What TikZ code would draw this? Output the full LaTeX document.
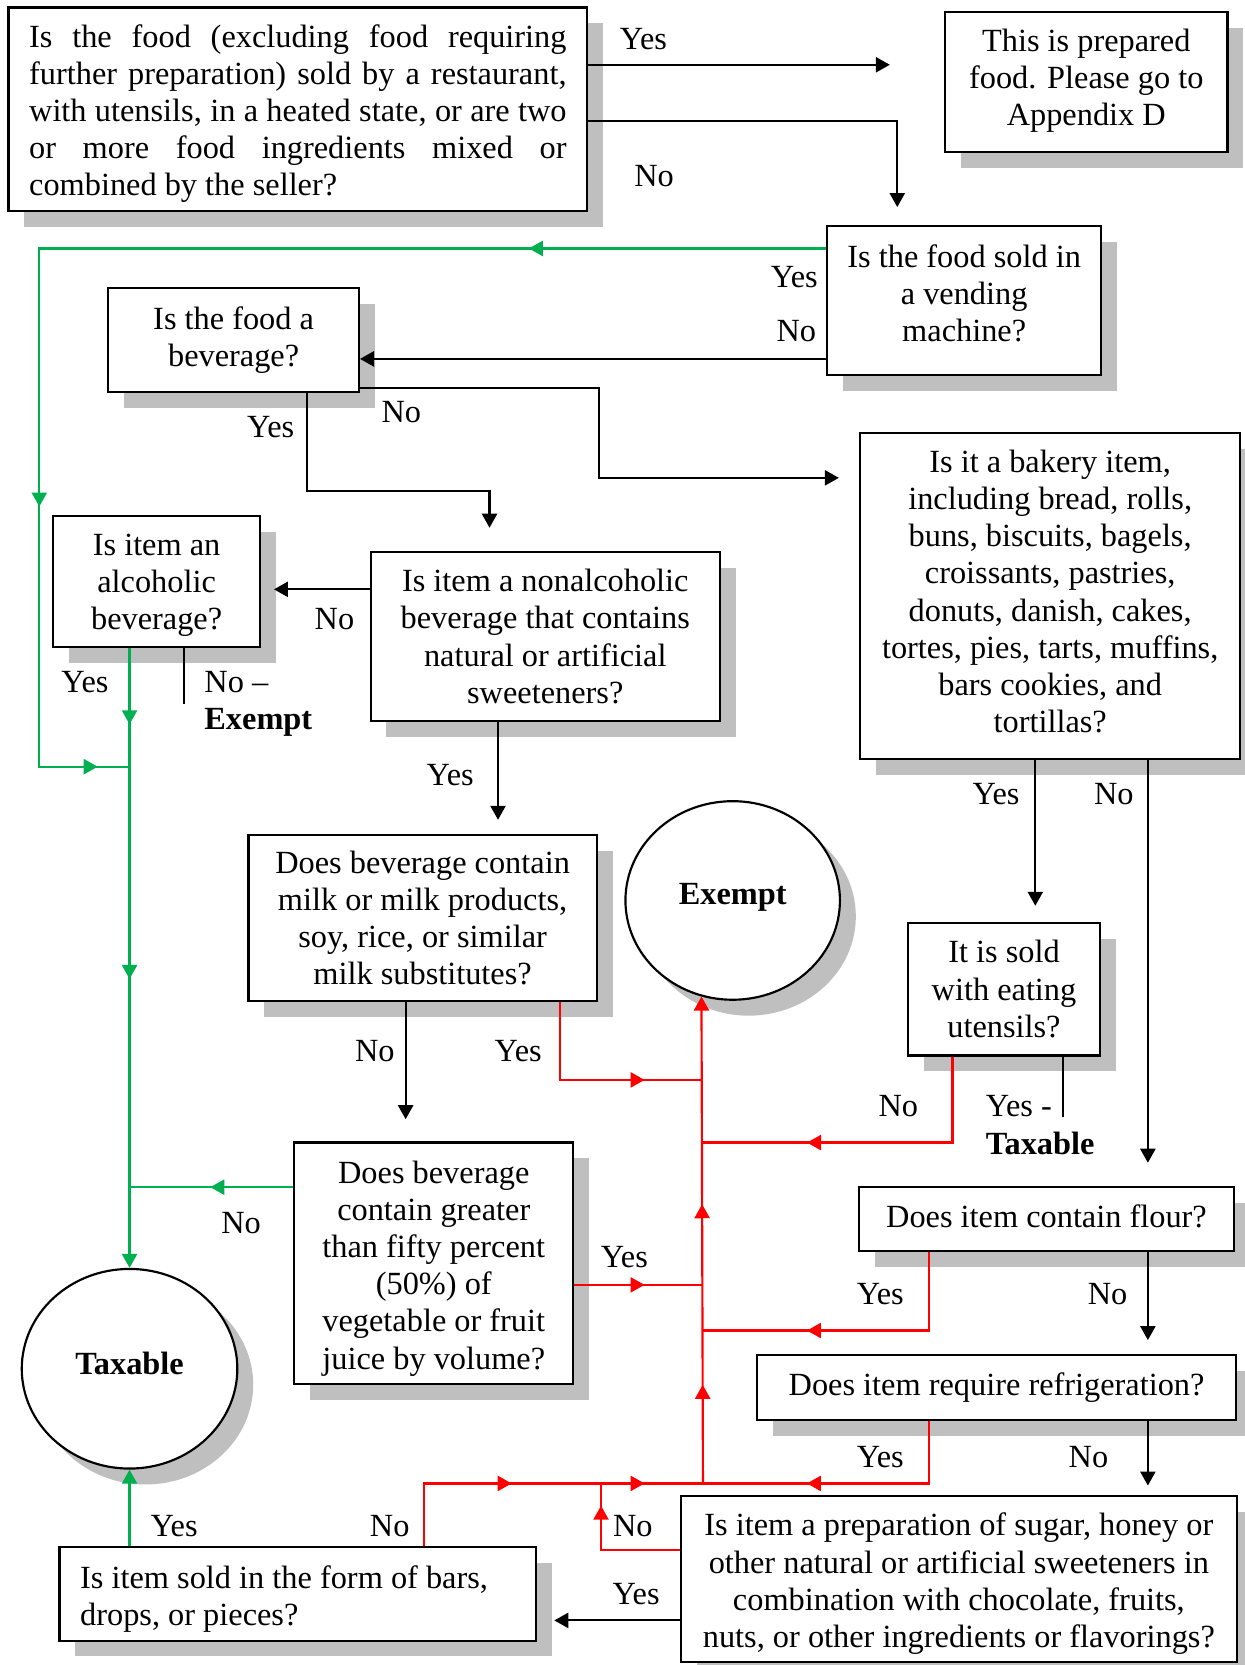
\documentclass[tikz,border=0pt]{standalone}
\usepackage{fontspec}
\setmainfont{Liberation Serif}
\usetikzlibrary{arrows.meta,shapes.geometric,shadows,decorations.markings}
\definecolor{shgray}{RGB}{191,191,191}
\definecolor{lgreen}{RGB}{0,176,80}
\definecolor{lred}{RGB}{255,0,0}
\newcommand\fs{\fontsize{12}{13.8}\selectfont}
\begin{document}
\begin{tikzpicture}[x=0.394pt,y=-0.394pt,
  font=\fs,
  shad/.style={drop shadow={shadow xshift=5.9pt,shadow yshift=-5.9pt,fill=shgray,opacity=1}},
  qbox/.style={draw,line width=0.8pt,fill=white,rectangle,align=center,inner sep=0pt,shad},
  wh/.style 2 args={minimum width=#1*0.394pt,minimum height=#2*0.394pt},
  endnode/.style={draw,line width=0.8pt,fill=white,ellipse,inner sep=0pt,shad},
  lbl/.style={inner sep=0pt},
  txt/.style={inner sep=0pt,align=center},
  conn/.style={line width=0.8pt},
  tipend/.style={-{Triangle[length=5.2pt,width=5.6pt]}},
  blk/.style={conn,black},
  grn/.style={conn,lgreen},
  rd/.style={conn,lred},
  marrow/.style={postaction={decorate,decoration={markings,mark=at position #1 with {\arrow{Triangle[length=5.2pt,width=5.6pt]}}}}},
]
\useasboundingbox (0,0) rectangle (1172,1568);
\fill[white] (0,0) rectangle (1172,1568);

% ---------- boxes ----------
\node[qbox,wh={545}{192}] (A) at (280.5,103) {};
\node[txt,align=left] (At) at (280.5,107) {%
\makebox[199.4pt][s]{Is the food (excluding food requiring}\\
\makebox[199.4pt][s]{further preparation) sold by a restaurant,}\\
\makebox[199.4pt][s]{with utensils, in a heated state, or are two}\\
\makebox[199.4pt][s]{or more food ingredients mixed or}\\
combined by the seller?};
\node[qbox,wh={266}{132}] (B) at (1023,77) {};
\node[txt] (Bt) at (1023,76) {This is prepared\\food. Please go to\\Appendix D};
\node[qbox,wh={258}{140}] (C) at (908,283) {};
\node[txt] (Ct) at (908,276) {Is the food sold in\\a vending\\machine?};
\node[qbox,wh={236}{98}] (D) at (220,320) {Is the food a\\beverage?};
\node[qbox,wh={358}{307}] (E) at (989,561.5) {};
\node[txt] (Et) at (989,557) {Is it a bakery item,\\including bread, rolls,\\buns, biscuits, bagels,\\croissants, pastries,\\donuts, danish, cakes,\\tortes, pies, tarts, muffins,\\bars cookies, and\\tortillas?};
\node[qbox,wh={195}{123}] (F) at (147.5,547.5) {};
\node[txt] (Ft) at (147.5,551) {Is item an\\alcoholic\\beverage?};
\node[qbox,wh={329}{159}] (G) at (513.5,599.5) {Is item a nonalcoholic\\beverage that contains\\natural or artificial\\sweeteners?};
\node[qbox,wh={328}{157}] (H) at (398,864.5) {Does beverage contain\\milk or milk products,\\soy, rice, or similar\\milk substitutes?};
\node[qbox,wh={181}{125}] (I) at (945.5,931.5) {It is sold\\with eating\\utensils?};
\node[qbox,wh={263}{227}] (J) at (408.5,1189.5) {};
\node[txt] (Jt) at (408.5,1194.5) {Does beverage\\contain greater\\than fifty percent\\(50\%) of\\vegetable or fruit\\juice by volume?};
\node[qbox,wh={353}{60}] (K) at (985.5,1148) {};
\node[txt] (Kt) at (985.5,1145) {Does item contain flour?};
\node[qbox,wh={451}{61}] (L) at (938.5,1306.5) {Does item require refrigeration?};
\node[qbox,wh={524}{156}] (M) at (903,1487) {};
\node[txt] (Mt) at (903,1491.5) {Is item a preparation of sugar, honey or\\other natural or artificial sweeteners in\\combination with chocolate, fruits,\\nuts, or other ingredients or flavorings?};
\node[qbox,wh={449}{88}] (N) at (280.5,1501) {};
\node[txt,align=left,anchor=west] (Nt) at (75,1505.5) {Is item sold in the form of bars,\\drops, or pieces?};
\node[endnode,wh={202}{187}] (Ex) at (690,848) {};
\node[txt,font=\fs\bfseries] (Ext) at (690,845) {Exempt};
\node[endnode,wh={203}{188}] (Tx) at (122,1289) {};
\node[txt,font=\fs\bfseries] (Txt) at (122,1284) {Taxable};

% ---------- coordinates ----------
\coordinate (fAB) at (838,61);
\coordinate (fAC) at (845,195);
\coordinate (gTL) at (37,234);
\coordinate (gBL) at (37,722);
\coordinate (gJ) at (122,722);
\coordinate (fDG) at (461,497);
\coordinate (fDE) at (790,450);
\coordinate (fEI) at (975,853);
\coordinate (fEK) at (1081,1095);
\coordinate (fFno) at (173,663);
\coordinate (fGF) at (258,555);
\coordinate (fGH) at (469,772);
\coordinate (fHJ) at (382,1054);
\coordinate (rH) at (662,1017);
\coordinate (rI) at (662,1076);
\coordinate (fIyes) at (1001,1052);
\coordinate (gJJ) at (122,1118);
\coordinate (rJ) at (662,1210);
\coordinate (rK) at (662,1253);
\coordinate (fKL) at (1081,1262);
\coordinate (jr) at (662,1397);
\coordinate (fLM) at (1081,1399);
\coordinate (jm) at (566,1397);
\coordinate (fMN) at (522,1526);

% ---------- connectors ----------
\draw[blk,tipend] (A.east |- fAB) -- (fAB);
\draw[blk,tipend] (A.east |- 0,114) -| (fAC);
\draw[grn,marrow=110.3pt,marrow=387.7pt,marrow=505.9pt] (C.west |- gTL) -- (gTL) -- (gBL) -- (gJ);
\draw[blk,tipend] (C.west |- 0,338) -- (D.east |- 0,338);
\draw[blk,tipend] (D.south -| 289,0) |- (fDG |- 0,462) -- (fDG);
\draw[blk,tipend] (D.east |- 0,365) -| (564,450) -- (fDE);
\draw[blk,tipend] (E.south -| fEI) -- (fEI);
\draw[blk,tipend] (E.south -| fEK) -- (fEK);
\draw[grn,tipend,marrow=28.4pt,marrow=122.9pt] (F.south -| Tx.north) -- (Tx.north);
\draw[blk] (F.south -| fFno) -- (fFno);
\draw[blk,tipend] (G.west |- fGF) -- (fGF);
\draw[blk,tipend] (G.south -| fGH) -- (fGH);
\draw[blk,tipend] (H.south -| fHJ) -- (fHJ);
\draw[rd,marrow=60.3pt] (H.south -| 527,0) |- (rH);
\draw[rd,tipend,marrow=36.6pt,marrow=103.6pt] (jr) -- (Ex.252.7);
\draw[rd,marrow=85.9pt] (I.south -| 897,0) |- (rI);
\draw[blk] (I.south -| fIyes) -- (fIyes);
\draw[grn,marrow=30.7pt] (J.west |- gJJ) -- (gJJ);
\draw[rd,marrow=26.0pt] (J.east |- rJ) -- (rJ);
\draw[rd,marrow=74.5pt] (K.south -| 875,0) |- (rK);
\draw[blk,tipend] (K.south -| fKL) -- (fKL);
\draw[rd,marrow=68.6pt] (L.south -| 875,0) |- (jr);
\draw[blk,tipend] (L.south -| fLM) -- (fLM);
\draw[rd,marrow=45.7pt] (M.west |- 0,1460) -| (jm);
\draw[blk,tipend] (M.west |- fMN) -- (fMN);
\draw[grn,tipend] (N.north -| Tx.south) -- (Tx.south);
\draw[rd,marrow=55.9pt,marrow=105.2pt] (N.north -| 399,0) |- (jr);

% ---------- labels ----------
\node[lbl] (l1) at (606,37) {Yes};
\node[lbl] (l2) at (616,166) {No};
\node[lbl] (l3) at (748,261) {Yes};
\node[lbl] (l4) at (750,312) {No};
\node[lbl] (l5) at (255,402) {Yes};
\node[lbl] (l6) at (378,388) {No};
\node[lbl] (l7) at (938,748) {Yes};
\node[lbl] (l8) at (1049,748) {No};
\node[lbl] (l9) at (80,642) {Yes};
\node[lbl,anchor=west,align=left] (l10) at (192,663) {No –\\\textbf{Exempt}};
\node[lbl] (l11) at (315,583) {No};
\node[lbl] (l12) at (424,730) {Yes};
\node[lbl] (l13) at (353,990) {No};
\node[lbl] (l14) at (488,990) {Yes};
\node[lbl] (l15) at (846,1042) {No};
\node[lbl,anchor=west,align=left] (l16) at (928,1059.5) {Yes -\\\textbf{Taxable}};
\node[lbl] (l17) at (227,1152) {No};
\node[lbl] (l18) at (588,1184) {Yes};
\node[lbl] (l19) at (829,1219) {Yes};
\node[lbl] (l20) at (1043,1219) {No};
\node[lbl] (l21) at (829,1372) {Yes};
\node[lbl] (l22) at (1025,1372) {No};
\node[lbl] (l23) at (164,1437) {Yes};
\node[lbl] (l24) at (367,1437) {No};
\node[lbl] (l25) at (596,1437) {No};
\node[lbl] (l26) at (599,1501) {Yes};
\end{tikzpicture}
\end{document}
